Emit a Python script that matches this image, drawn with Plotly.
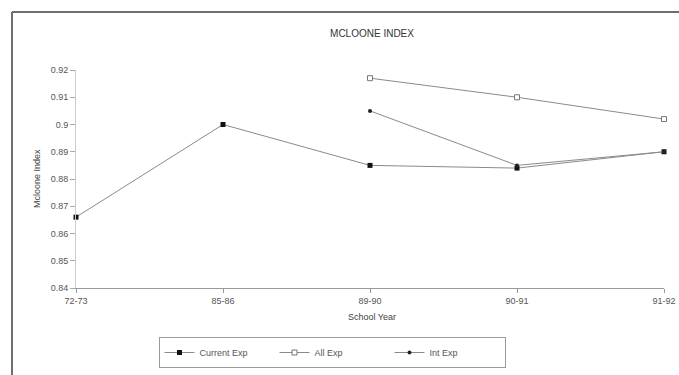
import plotly.graph_objects as go

# School years on the x axis
years = ["72-73", "85-86", "89-90", "90-91", "91-92"]

# McLoone index by expenditure measure
current_exp = [0.866, 0.900, 0.885, 0.884, 0.890]
all_exp = [None, None, 0.917, 0.910, 0.902]
int_exp = [None, None, 0.905, 0.885, 0.890]

y_ticks = [0.84, 0.85, 0.86, 0.87, 0.88, 0.89, 0.90, 0.91, 0.92]
y_tick_text = ["0.84", "0.85", "0.86", "0.87", "0.88", "0.89", "0.9", "0.91", "0.92"]

W, H = 679, 375
L, R, T, B = 76, 15, 70, 87
pw, ph = W - L - R, H - T - B

line_col = "#8a8a8a"
font = "Liberation Sans, Arial, sans-serif"

fig = go.Figure()
fig.add_trace(go.Scatter(
    x=years, y=current_exp, name="Current Exp", mode="lines+markers",
    line=dict(color=line_col, width=1), cliponaxis=False,
    marker=dict(symbol="square", size=5, color="#111111"),
))
fig.add_trace(go.Scatter(
    x=years, y=all_exp, name="All Exp", mode="lines+markers",
    line=dict(color=line_col, width=1), cliponaxis=False,
    marker=dict(symbol="square", size=5, color="white",
                line=dict(color="#777777", width=1)),
))
fig.add_trace(go.Scatter(
    x=years, y=int_exp, name="Int Exp", mode="lines+markers",
    line=dict(color=line_col, width=1), cliponaxis=False,
    marker=dict(symbol="circle", size=4, color="#222222"),
))


def px_x(p):
    return (p - L) / pw


def px_y(p):
    return (H - B - p) / ph


frame_col = "#6e6e6e"
shapes = [
    dict(type="line", xref="paper", yref="paper",
         x0=px_x(12), x1=px_x(W), y0=px_y(12), y1=px_y(12),
         line=dict(color=frame_col, width=2)),
    dict(type="line", xref="paper", yref="paper",
         x0=px_x(12), x1=px_x(12), y0=px_y(12), y1=px_y(H),
         line=dict(color=frame_col, width=2)),
]

fig.update_layout(
    width=W, height=H,
    margin=dict(l=L, r=R, t=T, b=B, autoexpand=False),
    paper_bgcolor="white", plot_bgcolor="white",
    font=dict(family=font, size=9, color="#444444"),
    title=dict(text="MCLOONE INDEX", x=372 / W, xanchor="center",
               y=1 - 33 / H, yanchor="middle",
               font=dict(size=10, color="#333333")),
    showlegend=True,
    legend=dict(orientation="h", x=px_x(332), xanchor="center",
                y=px_y(337), yanchor="top",
                bordercolor="#9a9a9a", borderwidth=1,
                font=dict(size=9, color="#555555"),
                itemwidth=30, entrywidth=70),
    shapes=shapes,
    annotations=[
        dict(text="School Year", xref="paper", yref="paper",
             x=px_x(372), y=px_y(324), showarrow=False,
             font=dict(size=9, color="#444444")),
        dict(text="Mcloone Index", xref="paper", yref="paper",
             x=px_x(30), y=0.5, textangle=-90, showarrow=False,
             font=dict(size=9, color="#444444")),
    ],
)

fig.update_xaxes(
    type="category", range=[0, 4], showgrid=False, zeroline=False,
    showline=True, linecolor="#999999", linewidth=1,
    ticks="outside", ticklen=4, tickcolor="#999999",
    tickfont=dict(size=9, color="#555555"),
)
fig.update_yaxes(
    range=[0.84, 0.92], tickvals=y_ticks, ticktext=y_tick_text,
    showgrid=False, zeroline=False,
    showline=True, linecolor="#cccccc", linewidth=1,
    ticks="outside", ticklen=5, tickcolor="#aaaaaa",
    tickfont=dict(size=9, color="#555555"),
)

fig.write_html("out.html")
